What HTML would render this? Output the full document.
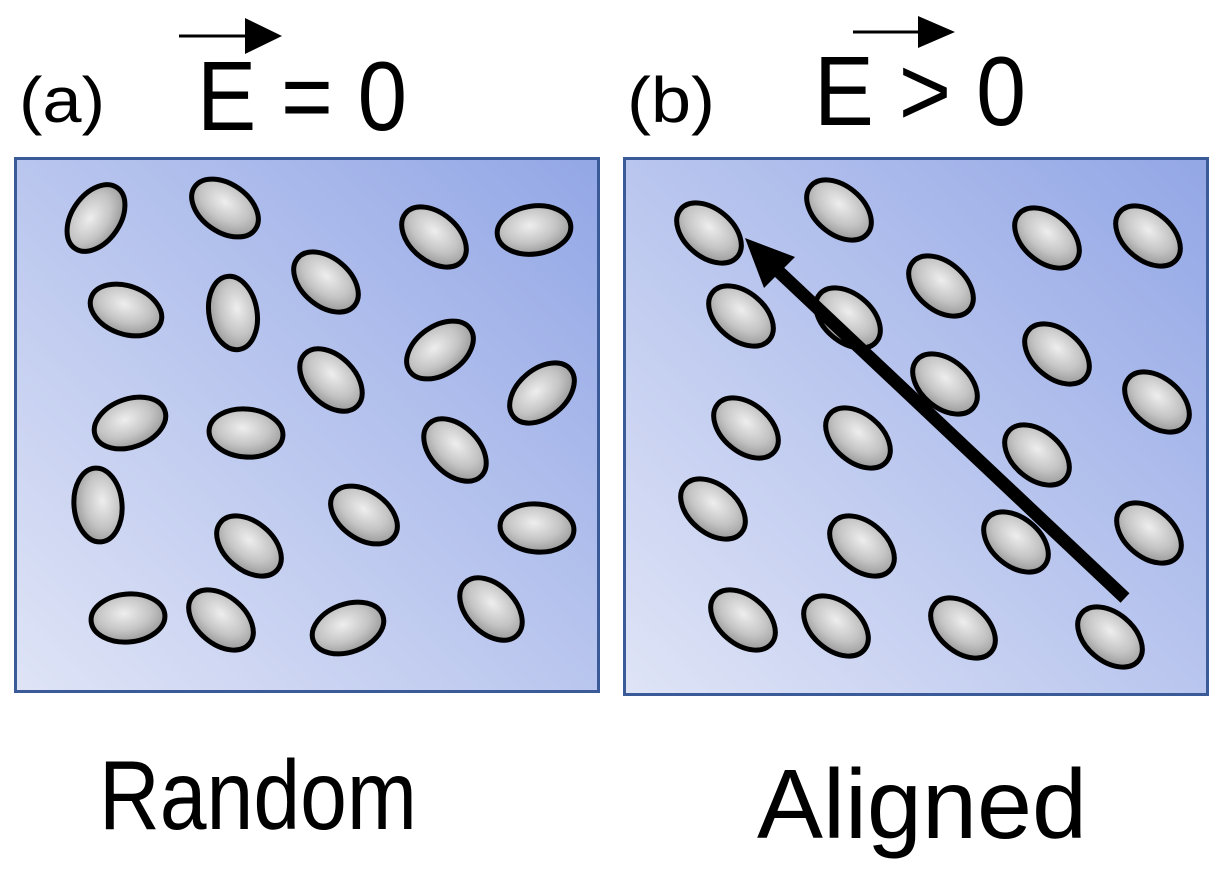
<!DOCTYPE html>
<html><head><style>body{margin:0;background:#fff}svg{display:block}</style></head><body>
<svg width="1222" height="873" viewBox="0 0 1222 873" xmlns="http://www.w3.org/2000/svg">
<defs>
<linearGradient id="bg" x1="0" y1="1" x2="1" y2="0">
<stop offset="0" stop-color="#dfe4f6"/><stop offset="1" stop-color="#93a7e6"/>
</linearGradient>
<radialGradient id="gr" cx="0.45" cy="0.4" r="0.6">
<stop offset="0" stop-color="#eeeeee"/><stop offset="0.6" stop-color="#c4c4c4"/><stop offset="1" stop-color="#9a9a9a"/>
</radialGradient>
<g id="el"><ellipse cx="0" cy="0" rx="37" ry="24" fill="url(#gr)" stroke="#000" stroke-width="5"/></g>
</defs>
<rect x="15.5" y="158.5" width="583" height="533" fill="url(#bg)" stroke="#3b5b98" stroke-width="3"/>
<rect x="624.5" y="158.5" width="583" height="536" fill="url(#bg)" stroke="#3b5b98" stroke-width="3"/>
<g>
<use href="#el" transform="translate(96,218) rotate(-55)"/>
<use href="#el" transform="translate(225,208) rotate(35)"/>
<use href="#el" transform="translate(434,237) rotate(40)"/>
<use href="#el" transform="translate(534,230) rotate(-8)"/>
<use href="#el" transform="translate(126,310) rotate(20)"/>
<use href="#el" transform="translate(233,313) rotate(80)"/>
<use href="#el" transform="translate(326,282) rotate(40)"/>
<use href="#el" transform="translate(440,350) rotate(-35)"/>
<use href="#el" transform="translate(331,380) rotate(45)"/>
<use href="#el" transform="translate(542,393) rotate(-40)"/>
<use href="#el" transform="translate(130,423) rotate(-20)"/>
<use href="#el" transform="translate(246,433) rotate(5)"/>
<use href="#el" transform="translate(455,450) rotate(45)"/>
<use href="#el" transform="translate(98,505) rotate(85)"/>
<use href="#el" transform="translate(249,546) rotate(40)"/>
<use href="#el" transform="translate(364,515) rotate(35)"/>
<use href="#el" transform="translate(537,528) rotate(5)"/>
<use href="#el" transform="translate(128,618) rotate(-5)"/>
<use href="#el" transform="translate(221,620) rotate(40)"/>
<use href="#el" transform="translate(348,628) rotate(-20)"/>
<use href="#el" transform="translate(491,609) rotate(45)"/>
</g>
<g>
<use href="#el" transform="translate(709,233) rotate(40)"/>
<use href="#el" transform="translate(839,210) rotate(40)"/>
<use href="#el" transform="translate(1047,238) rotate(40)"/>
<use href="#el" transform="translate(1148,236) rotate(40)"/>
<use href="#el" transform="translate(741,316) rotate(40)"/>
<use href="#el" transform="translate(848,318) rotate(40)"/>
<use href="#el" transform="translate(941,286) rotate(40)"/>
<use href="#el" transform="translate(1057,354) rotate(40)"/>
<use href="#el" transform="translate(945,384) rotate(40)"/>
<use href="#el" transform="translate(1157,402) rotate(40)"/>
<use href="#el" transform="translate(746,428) rotate(40)"/>
<use href="#el" transform="translate(858,438) rotate(40)"/>
<use href="#el" transform="translate(1037,455) rotate(40)"/>
<use href="#el" transform="translate(713,509) rotate(40)"/>
<use href="#el" transform="translate(862,546) rotate(40)"/>
<use href="#el" transform="translate(1016,542) rotate(40)"/>
<use href="#el" transform="translate(1149,533) rotate(40)"/>
<use href="#el" transform="translate(743,620) rotate(40)"/>
<use href="#el" transform="translate(836,626) rotate(40)"/>
<use href="#el" transform="translate(963,628) rotate(40)"/>
<use href="#el" transform="translate(1110,637) rotate(40)"/>
</g>
<line x1="1125" y1="598" x2="775" y2="268" stroke="#000" stroke-width="13"/>
<polygon points="745,238 795,257 764,288" fill="#000"/>
<g font-family="Liberation Sans, sans-serif" fill="#000">
<text x="19" y="122" font-size="64" textLength="86" lengthAdjust="spacingAndGlyphs">(a)</text>
<text x="627" y="122" font-size="64" textLength="88" lengthAdjust="spacingAndGlyphs">(b)</text>
<text x="197" y="130" font-size="98" textLength="210" lengthAdjust="spacingAndGlyphs">E = 0</text>
<text x="814" y="125" font-size="98" textLength="212" lengthAdjust="spacingAndGlyphs">E &gt; 0</text>
<text x="99" y="829" font-size="98" textLength="318" lengthAdjust="spacingAndGlyphs">Random</text>
<text x="757" y="838" font-size="98" textLength="330" lengthAdjust="spacingAndGlyphs">Aligned</text>
</g>
<line x1="179" y1="36" x2="250" y2="36" stroke="#000" stroke-width="3"/>
<polygon points="245,18 282,36 245,54" fill="#000"/>
<line x1="853" y1="32" x2="922" y2="32" stroke="#000" stroke-width="3"/>
<polygon points="918,16 955,32 918,48" fill="#000"/>
</svg>
</body></html>
